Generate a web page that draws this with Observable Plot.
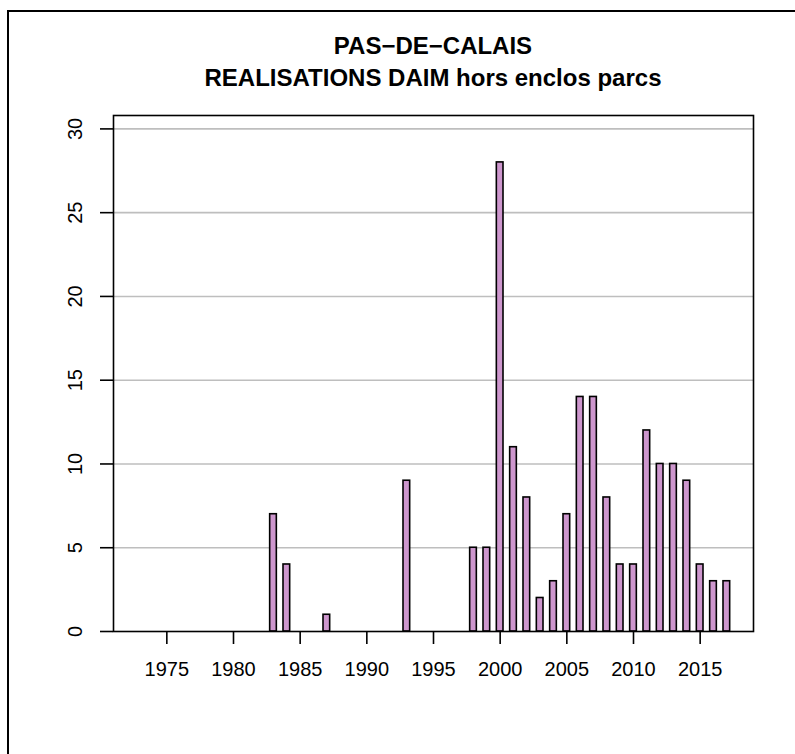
<!DOCTYPE html>
<html><head><meta charset="utf-8">
<script src="https://cdn.jsdelivr.net/npm/d3@7"></script>
<script src="https://cdn.jsdelivr.net/npm/@observablehq/plot@0.6"></script>
<style>
html,body{margin:0;padding:0;background:#fff;overflow:hidden;}
#wrap{position:relative;width:795px;height:754px;overflow:hidden;font-family:"Liberation Sans",Arial,Helvetica,sans-serif;}
#border{position:absolute;left:7px;top:10px;width:820px;height:780px;border-left:2px solid #000;border-top:2px solid #000;}
.t{position:absolute;left:113px;width:640px;text-align:center;font-weight:bold;font-size:24px;line-height:24px;color:#000;white-space:nowrap;}
#chart{position:absolute;left:0;top:0;}
</style></head><body>
<div id="wrap">
<div id="border"></div>
<div class="t" id="t1"></div>
<div class="t" id="t2"></div>
<div id="chart"></div>
</div>
<script>
const titleLine1 = "PAS\u2212DE\u2212CALAIS";
const titleLine2 = "REALISATIONS DAIM hors enclos parcs";
const years = [1973,1974,1975,1976,1977,1978,1979,1980,1981,1982,1983,1984,1985,1986,1987,1988,1989,1990,1991,1992,1993,1994,1995,1996,1997,1998,1999,2000,2001,2002,2003,2004,2005,2006,2007,2008,2009,2010,2011,2012,2013,2014,2015,2016,2017];
const values = [0,0,0,0,0,0,0,0,0,0,7,4,0,0,1,0,0,0,0,0,9,0,0,0,0,5,5,28,11,8,2,3,7,14,14,8,4,4,12,10,10,9,4,3,3];
const xTicks = [1975,1980,1985,1990,1995,2000,2005,2010,2015];
const yTicks = [0,5,10,15,20,25,30];
const gridLines = [5,10,15,20,25,30];

const data = years.map((y,i)=>({year:y, value:values[i]}));

const t1 = document.getElementById("t1"); t1.textContent = titleLine1; t1.style.top = "34px";
const t2 = document.getElementById("t2"); t2.textContent = titleLine2; t2.style.top = "66px";

const chart = Plot.plot({
  width: 795, height: 754,
  marginLeft: 113, marginRight: 42, marginTop: 115, marginBottom: 123,
  style: {fontFamily: '"Liberation Sans",Arial,Helvetica,sans-serif', fontSize: "20px", background: "transparent", color: "#000", overflow: "visible"},
  x: {domain: [1971, 2019]},
  y: {domain: [0, 30.8]},
  marks: [
    Plot.ruleY(gridLines, {stroke: "#BEBEBE", strokeWidth: 1.6}),
    Plot.rect(data, {x1: d => d.year - 0.25, x2: d => d.year + 0.25, y1: 0, y2: "value", fill: "#CD96CD", stroke: "#000", strokeWidth: 1.6}),
    Plot.frame({stroke: "#000", strokeWidth: 1.6}),
    Plot.axisX({ticks: xTicks, tickSize: 13, tickPadding: 17, tickFormat: d => String(d), strokeWidth: 1.6, label: null}),
    Plot.axisY({ticks: yTicks, tickSize: 13, tickPadding: 19, tickRotate: -90, tickFormat: d => String(d), strokeWidth: 1.6, label: null})
  ]
});
document.getElementById("chart").appendChild(chart);
</script>
</body></html>
